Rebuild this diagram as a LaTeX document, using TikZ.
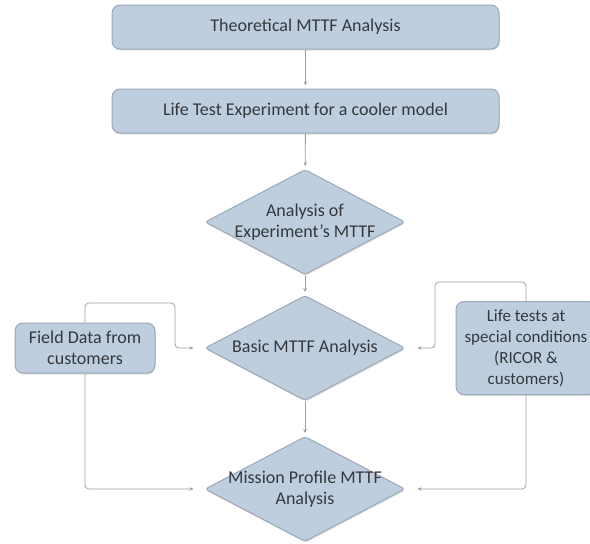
\documentclass[tikz,border=0pt]{standalone}
\usepackage{fontspec}
\setmainfont{Carlito}
\usepackage{xcolor}
\usetikzlibrary{shapes.geometric, arrows.meta, positioning, shadows}
\definecolor{boxfill}{RGB}{190,206,223}
\definecolor{boxline}{RGB}{155,168,185}
\definecolor{linkgrey}{RGB}{170,155,150}
\definecolor{textgrey}{RGB}{52,56,62}

\tikzset{
    stepbox/.style={draw=boxline, fill=boxfill, rounded corners=8pt, line width=1pt,
        text=textgrey, align=center, font=\fontsize{18}{21}\selectfont,
        drop shadow={opacity=0.25, shadow xshift=0.6pt, shadow yshift=-1.5pt}},
    decision/.style={diamond, draw=boxline, fill=boxfill, line width=1pt, inner sep=0pt,
        minimum width=200pt, minimum height=105pt, rounded corners=3pt,
        drop shadow={opacity=0.25, shadow xshift=0.6pt, shadow yshift=-1.5pt}},
    decisiontext/.style={text=textgrey, align=center, font=\fontsize{18}{21}\selectfont},
    link/.style={draw=linkgrey, line width=0.8pt, rounded corners=4pt,
        -{Stealth[length=4pt, width=3.5pt]}, shorten >=3pt},
}

\begin{document}
\begin{tikzpicture}[x=1pt, y=-1pt]
    \useasboundingbox (0,0) rectangle (590,544);

    % main chain
    \node[stepbox, minimum width=387pt, minimum height=44pt] (theory) at (305.5,27) {Theoretical MTTF Analysis};
    \node[stepbox, minimum width=387pt, minimum height=44pt] (lifetest) at (305.5,111) {Life Test Experiment for a cooler model};
    \node[decision, label={[decisiontext]center:{Analysis of\\Experiment’s MTTF}}] (expmttf) at (305,222) {};
    \node[decision, label={[decisiontext]center:{Basic MTTF Analysis}}] (basic) at (305,348) {};
    \node[decision, label={[decisiontext]center:{Mission Profile MTTF\\Analysis}}] (mission) at (305,489) {};

    % side inputs
    \node[stepbox, minimum width=140pt, minimum height=50pt] (field) at (85,348) {Field Data from\\customers};
    \node[stepbox, minimum width=140pt, minimum height=93pt, font=\fontsize{17}{21}\selectfont] (special) at (526,348) {Life tests at\\special conditions\\(RICOR \&\\customers)};

    \coordinate (fieldbend) at (175,303);
    \coordinate (specialbend) at (435,282);

    \draw[link] (theory) -- (lifetest);
    \draw[link] (lifetest) -- (expmttf);
    \draw[link] (expmttf) -- (basic);
    \draw[link] (basic) -- (mission);

    \draw[link, shorten >=11pt] (field.north) |- (fieldbend) |- (basic.west);
    \draw[link, shorten >=11pt] (field.south) |- (mission.west);
    \draw[link, shorten >=12pt] (special.north) |- (specialbend) |- (basic.east);
    \draw[link, shorten >=12pt] (special.south) |- (mission.east);
\end{tikzpicture}
\end{document}
